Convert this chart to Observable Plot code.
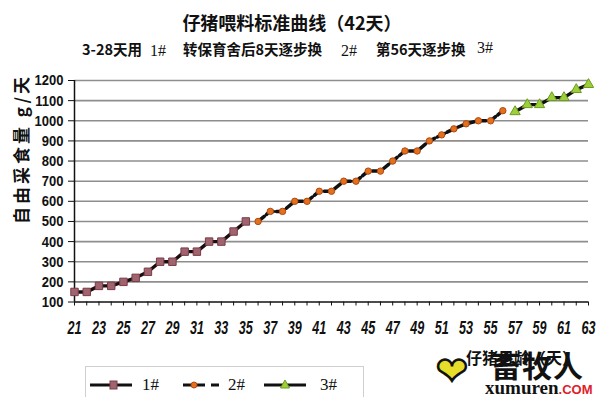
<!DOCTYPE html>
<html><head><meta charset="utf-8">
<script src="https://cdn.jsdelivr.net/npm/d3@7"></script>
<script src="https://cdn.jsdelivr.net/npm/@observablehq/plot@0.6"></script>
<style>
body{margin:0;background:#fff;}
#wrap{position:relative;width:608px;height:397px;overflow:hidden;background:#fff;font-family:"Noto Sans CJK SC",sans-serif;color:#111;}
#chart{position:absolute;left:0;top:0;}
.abs{position:absolute;white-space:nowrap;line-height:1;}
.ser{font-family:"Liberation Serif","DejaVu Serif",serif;font-weight:normal;}
.b{font-weight:bold;}
</style></head><body>
<div id="wrap">
  <div id="chart"></div>
  <div class="abs b" style="left:0;width:584px;text-align:center;top:13px;font-size:18px;">仔猪喂料标准曲线（42天）</div>
  <div class="abs b" style="left:82px;top:42px;font-size:14.5px;">3-28天用</div>
  <div class="abs ser" style="left:150px;top:43px;font-size:16px;">1#</div>
  <div class="abs b" style="left:183px;top:42px;font-size:14.5px;">转保育舍后8天逐步换</div>
  <div class="abs ser" style="left:341px;top:43px;font-size:16px;">2#</div>
  <div class="abs b" style="left:376px;top:42px;font-size:14.5px;">第56天逐步换</div>
  <div class="abs ser" style="left:477px;top:40px;font-size:16px;">3#</div>
  <div class="abs b" id="ylab" style="left:20px;top:149px;font-size:17px;letter-spacing:3px;transform:translate(-50%,-50%) rotate(-90deg);">自由采食量 g/天</div>
  <div class="abs b" style="left:466px;top:349px;font-size:16px;">仔猪日龄（天）</div>
  <div id="legend" class="abs" style="left:85px;top:366px;width:277px;height:40px;border:1px solid #cfcfcf;background:#fff;"></div>
  <div class="abs" style="left:436px;top:352px;font-size:38px;color:#e6dc2a;-webkit-text-stroke:2.5px #111;font-family:'DejaVu Sans',sans-serif;">❤</div>
  <div class="abs b" style="left:491px;top:349px;font-size:30px;letter-spacing:1px;">畜牧人</div>
  <div class="abs b" style="left:485px;top:378px;font-size:19px;font-family:'Liberation Serif',serif;">xumuren<span style="color:#e0202a;font-family:'Liberation Sans',sans-serif;font-size:13px;">.COM</span></div>
</div>
<script>
const s1Days = [21,22,23,24,25,26,27,28,29,30,31,32,33,34,35];
const s1Values = [150,150,180,180,200,220,250,300,300,350,350,400,400,450,500];
const s2Days = [36,37,38,39,40,41,42,43,44,45,46,47,48,49,50,51,52,53,54,55,56];
const s2Values = [500,550,550,600,600,650,650,700,700,750,750,800,850,850,900,930,960,985,1000,1000,1050];
const s3Days = [57,58,59,60,61,62,63];
const s3Values = [1045,1080,1080,1115,1115,1155,1180];
const yTicks = [100,200,300,400,500,600,700,800,900,1000,1100,1200];
const xLabelTicks = [21,23,25,27,29,31,33,35,37,39,41,43,45,47,49,51,53,55,57,59,61,63];
const seriesNames = ["1#","2#","3#"];

const rows = (days, vals) => days.map((d, i) => ({day: d, value: vals[i]}));
const data1 = rows(s1Days, s1Values), data2 = rows(s2Days, s2Values), data3 = rows(s3Days, s3Values);
const allDays = d3.range(s1Days[0], s3Days[s3Days.length - 1] + 1);
const sans = "'Liberation Sans',Arial,sans-serif";

const chart = Plot.plot({
  width: 608, height: 397,
  marginLeft: 74, marginRight: 20, marginTop: 80, marginBottom: 95.5,
  x: {domain: [21, 63]},
  y: {domain: [100, 1200]},
  style: {background: "transparent", overflow: "visible"},
  marks: [
    Plot.gridY(yTicks.slice(1), {stroke: "#8e8e8e", strokeOpacity: 1, strokeWidth: 1.6}),
    Plot.axisY({ticks: yTicks, tickFormat: d => String(d), tickSize: 6, tickPadding: 5, fontSize: 15.5, fontWeight: "bold", fontFamily: sans, label: null, color: "#111"}),
    Plot.axisX({ticks: allDays, tickSize: 4, tickFormat: () => "", label: null, color: "#111"}),
    Plot.axisX({ticks: xLabelTicks, tickFormat: d => String(d), tickSize: 0, tickPadding: 19.5, fontSize: 17.5, fontWeight: "bold", fontStyle: "italic", fontFamily: sans, label: null, color: "#111"}),
    Plot.ruleY([100], {stroke: "#111", strokeWidth: 1.5}),
    Plot.ruleX([21], {stroke: "#111", strokeWidth: 1.5}),
    Plot.line(data1, {x: "day", y: "value", stroke: "#1a0d0d", strokeWidth: 3.4}),
    Plot.line(data2, {x: "day", y: "value", stroke: "#111", strokeWidth: 3.5, strokeDasharray: "8,3"}),
    Plot.line(data3, {x: "day", y: "value", stroke: "#111", strokeWidth: 3.4}),
    Plot.dot(data1, {x: "day", y: "value", symbol: "square", r: 4.2, fill: "#a0646e", stroke: "#7a3b48", strokeWidth: 1}),
    Plot.dot(data2, {x: "day", y: "value", symbol: "circle", r: 3.2, fill: "#e2701e", stroke: "#b04a10", strokeWidth: 1}),
    Plot.dot(data3, {x: "day", y: "value", symbol: "triangle", r: 3.8, fill: "#9ccf3a", stroke: "#6c9c1c", strokeWidth: 1})
  ]
});
document.getElementById("chart").append(chart);

// condense the tick label glyphs horizontally (the reference uses a narrow face)
function squeeze(sel, k) {
  chart.querySelectorAll(sel).forEach(t => {
    const tr = t.getAttribute("transform") || "";
    t.setAttribute("transform", `${tr} scale(${k},1)`);
  });
}
squeeze('g[aria-label="y-axis tick label"] text', 0.84);
squeeze('g[aria-label="x-axis tick label"] text', 0.72);

// legend
const leg = document.getElementById("legend");
const sw = [
  `<svg width="44" height="14"><line x1="2" y1="7" x2="44" y2="7" stroke="#111" stroke-width="3"/><rect x="22" y="3" width="7" height="8" fill="#a0646e" stroke="#7a3b48"/></svg>`,
  `<svg width="40" height="14"><line x1="2" y1="7" x2="40" y2="7" stroke="#111" stroke-width="3" stroke-dasharray="8,6"/><circle cx="13" cy="7" r="3" fill="#e2701e" stroke="#b04a10"/></svg>`,
  `<svg width="46" height="14"><line x1="2" y1="7" x2="44" y2="7" stroke="#111" stroke-width="3"/><path d="M23,2 L27.5,10 L18.5,10 Z" fill="#9ccf3a" stroke="#6c9c1c"/></svg>`
];
const lefts = [2, 95, 176];
const gaps = [10, 7, 12];
seriesNames.forEach((n, i) => {
  const item = document.createElement("div");
  item.className = "abs";
  item.style.left = lefts[i] + "px";
  item.style.top = "9px";
  item.style.display = "flex";
  item.style.alignItems = "center";
  item.innerHTML = sw[i] + `<span class="ser" style="font-size:17px;margin-left:${gaps[i]}px;">${n}</span>`;
  leg.append(item);
});
</script>
</body></html>
